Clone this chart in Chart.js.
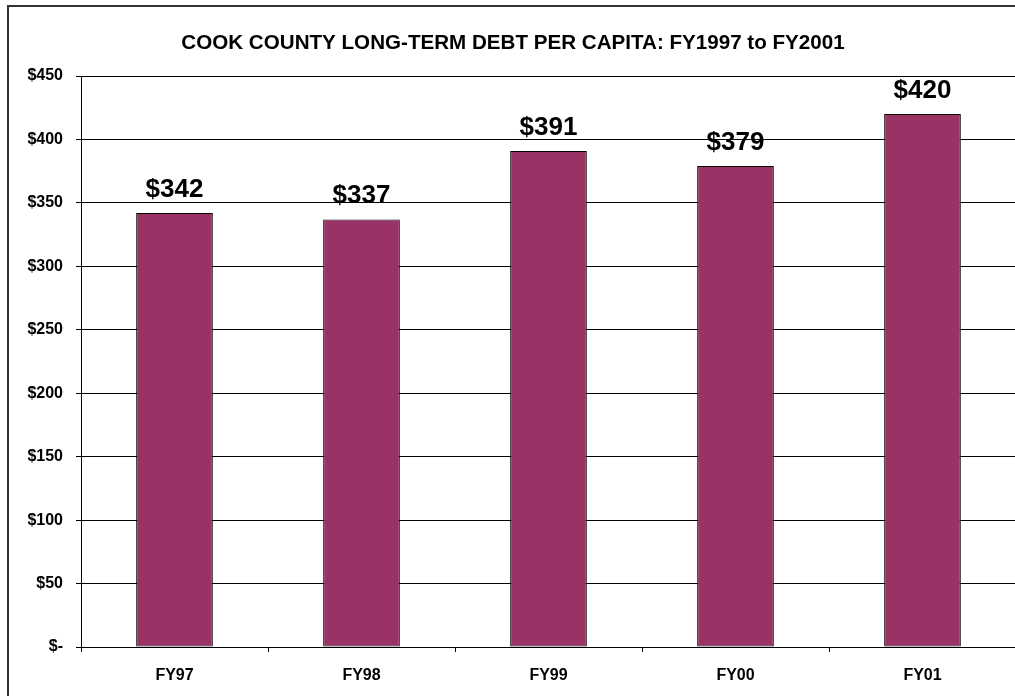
<!DOCTYPE html>
<html>
<head>
<meta charset="utf-8">
<script src="https://cdn.jsdelivr.net/npm/chart.js@4.4.0/dist/chart.umd.min.js"></script>
<style>
  html, body { margin: 0; padding: 0; background: #fff; overflow: hidden; }
  #frame { position: absolute; left: 7px; top: 5px; width: 1200px; height: 900px;
           border-left: 2px solid #333; border-top: 2px solid #333; }
  #wrap { position: absolute; left: 0; top: 0; width: 1019px; height: 696px; }
</style>
</head>
<body>
<div id="frame"></div>
<div id="wrap"><canvas id="debtChart"></canvas></div>
<script>
// Cook County long-term debt per capita, FY97-FY01
const years = ['FY97', 'FY98', 'FY99', 'FY00', 'FY01'];
const debtPerCapita = [342, 337, 391, 379, 420];
const yTicks = [0, 50, 100, 150, 200, 250, 300, 350, 400, 450];

const FONT = '"Liberation Sans", Arial, sans-serif';

// value labels over each bar
const barLabels = {
  id: 'barLabels',
  afterDatasetsDraw(chart) {
    const { ctx } = chart;
    const meta = chart.getDatasetMeta(0);
    ctx.save();
    ctx.font = 'bold 26px ' + FONT;
    ctx.fillStyle = '#000';
    ctx.textAlign = 'center';
    ctx.textBaseline = 'alphabetic';
    meta.data.forEach((bar, i) => {
      ctx.fillText('$' + debtPerCapita[i], bar.x, bar.y - 16);
    });
    ctx.restore();
  }
};

new Chart(document.getElementById('debtChart'), {
  type: 'bar',
  data: {
    labels: years,
    datasets: [{
      data: debtPerCapita,
      backgroundColor: '#993366',
      borderColor: '#000',
      borderWidth: 1,
      borderSkipped: false,
      categoryPercentage: 1,
      barPercentage: 0.41
    }]
  },
  options: {
    responsive: true,
    maintainAspectRatio: false,
    animation: false,
    layout: { padding: { top: 31, left: 10, right: 3, bottom: 13 } },
    plugins: {
      legend: { display: false },
      tooltip: { enabled: false },
      title: {
        display: true,
        text: 'COOK COUNTY LONG-TERM DEBT PER CAPITA: FY1997 to FY2001',
        color: '#000',
        font: { family: FONT, size: 20.6, weight: 'bold', lineHeight: 1.2 },
        padding: { top: 0, bottom: 20.3 }
      }
    },
    scales: {
      x: {
        offset: true,
        afterFit(scale) { scale.height = 36; },
        border: { display: true, color: '#000', width: 1 },
        grid: { display: true, offset: true, drawOnChartArea: false, drawTicks: true, tickLength: 5, color: '#000' },
        ticks: { color: '#000', padding: 14, font: { family: FONT, size: 16, weight: 'bold' } }
      },
      y: {
        min: 0,
        max: 450,
        afterFit(scale) { scale.width = 71; },
        afterBuildTicks(scale) { scale.ticks = yTicks.map(v => ({ value: v })); },
        border: { display: true, color: '#000', width: 1 },
        grid: { color: '#000', lineWidth: 1, tickLength: 5 },
        ticks: {
          color: '#000',
          padding: 13,
          font: { family: FONT, size: 16, weight: 'bold' },
          callback: v => v === 0 ? '$-' : '$' + v
        }
      }
    }
  },
  plugins: [barLabels]
});
</script>
</body>
</html>
